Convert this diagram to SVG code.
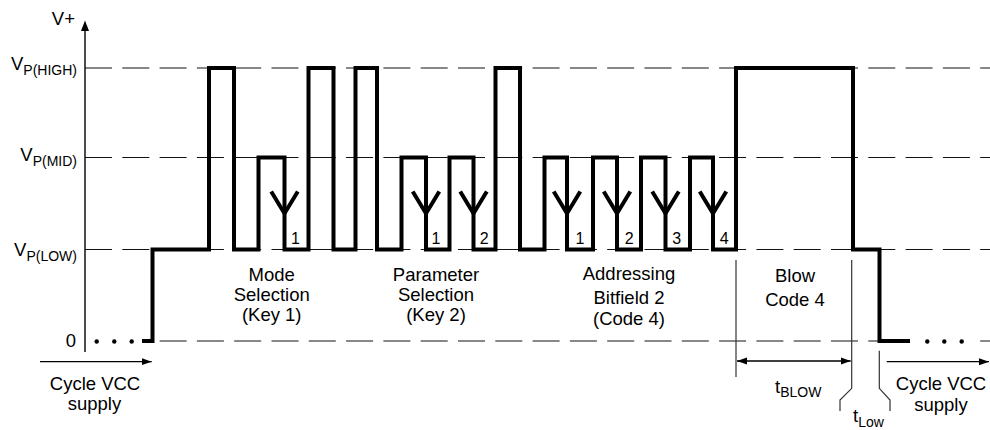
<svg xmlns="http://www.w3.org/2000/svg" width="990" height="430" viewBox="0 0 990 430">
  <style>
    text { font-family: "Liberation Sans", Arial, sans-serif; fill: #000; }
    .lbl { font-size: 18.5px; }
    .sub { font-size: 14px; }
    .dig { font-size: 16px; text-anchor: middle; }
    .mid { text-anchor: middle; }
    .end { text-anchor: end; }
    .grid { stroke: #111; stroke-width: 1; stroke-dasharray: 27 10.3; fill: none; }
    .wave { stroke: #000; stroke-width: 4; fill: none; stroke-linejoin: miter; }
    .key { stroke: #000; stroke-width: 4; fill: none; stroke-linejoin: miter; }
    .thin { stroke: #333; stroke-width: 1.2; fill: none; }
    .arr { stroke: #000; stroke-width: 1.3; fill: none; }
  </style>
  <defs>
    <marker id="ah" markerUnits="userSpaceOnUse" markerWidth="12" markerHeight="8" refX="10" refY="4" orient="auto-start-reverse" viewBox="0 0 12 8">
      <path d="M0,0.5 L10,4 L0,7.5 Z" fill="#000"/>
    </marker>
  </defs>

  <g id="grid">
    <line class="grid" x1="85" y1="68" x2="990" y2="68"/>
    <line class="grid" x1="85" y1="157.5" x2="990" y2="157.5"/>
    <line class="grid" x1="85" y1="249.5" x2="990" y2="249.5"/>
    <line class="grid" x1="152" y1="341" x2="910" y2="341" stroke-dashoffset="29.7"/>
    <line class="grid" x1="975" y1="341" x2="990" y2="341" stroke-dashoffset="32.1"/>
  </g>

  <g id="axis">
    <line x1="85" y1="30" x2="85" y2="352" stroke="#000" stroke-width="1.4"/>
    <path d="M85,20.5 L89,31 L81,31 Z" fill="#000"/>
    <text class="lbl end" x="75" y="25">V+</text>
    <text class="lbl end" x="77" y="70">V<tspan class="sub" dy="5">P(HIGH)</tspan></text>
    <text class="lbl end" x="77" y="161">V<tspan class="sub" dy="5">P(MID)</tspan></text>
    <text class="lbl end" x="77" y="256">V<tspan class="sub" dy="5">P(LOW)</tspan></text>
    <text class="lbl end" x="76" y="347">0</text>
  </g>

  <g id="dots" fill="#000">
    <circle cx="96.7" cy="341.5" r="2.2"/>
    <circle cx="114.3" cy="341.5" r="2.2"/>
    <circle cx="131.7" cy="341.5" r="2.2"/>
    <circle cx="927.3" cy="341.5" r="2.2"/>
    <circle cx="944.3" cy="341.5" r="2.2"/>
    <circle cx="961.7" cy="341.5" r="2.2"/>
  </g>

  <g id="waveform">
    <path class="wave" d="M142,341 H152.5 V249.5 H209 V68 H234 V249.5 H258.5 V157.5 H284.5 V249.5 H308.5 V68 H333.5 V249.5 H355.5 V68 H377 V249.5 H401.5 V157.5 H426 V249.5 H449.5 V157.5 H473.5 V249.5 H495.5 V68 H520 V249.5 H544.5 V157.5 H567 V249.5 H593 V157.5 H617 V249.5 H641 V157.5 H665.5 V249.5 H690 V157.5 H713 V249.5 H736 V68 H853 V249.5 H879.5 V341 H910"/>
  </g>

  <g id="key-arrows">
    <polyline class="key" points="271.2,191.5 284.5,213.5 297.8,191.5"/>
    <polyline class="key" points="412.7,191.5 426,213.5 439.3,191.5"/>
    <polyline class="key" points="460.2,191.5 473.5,213.5 486.8,191.5"/>
    <polyline class="key" points="553.7,191.5 567,213.5 580.3,191.5"/>
    <polyline class="key" points="603.7,191.5 617,213.5 630.3,191.5"/>
    <polyline class="key" points="652.2,191.5 665.5,213.5 678.8,191.5"/>
    <polyline class="key" points="699.7,191.5 713,213.5 726.3,191.5"/>
  </g>

  <g id="key-numbers">
    <text class="dig" x="295.5" y="243.5">1</text>
    <text class="dig" x="436" y="243.5">1</text>
    <text class="dig" x="484.3" y="243.5">2</text>
    <text class="dig" x="580" y="243.5">1</text>
    <text class="dig" x="629.3" y="243.5">2</text>
    <text class="dig" x="676.7" y="243.5">3</text>
    <text class="dig" x="724.3" y="243.5">4</text>
  </g>

  <g id="phase-labels">
    <text class="lbl mid" x="271.7" y="280.7">Mode</text>
    <text class="lbl mid" x="271.7" y="300.7">Selection</text>
    <text class="lbl mid" x="271.7" y="320.5">(Key 1)</text>
    <text class="lbl mid" x="436" y="280.7">Parameter</text>
    <text class="lbl mid" x="436" y="300.7">Selection</text>
    <text class="lbl mid" x="436" y="320.5">(Key 2)</text>
    <text class="lbl mid" x="629" y="280">Addressing</text>
    <text class="lbl mid" x="629" y="304">Bitfield 2</text>
    <text class="lbl mid" x="629" y="325">(Code 4)</text>
    <text class="lbl mid" x="795" y="282.3">Blow</text>
    <text class="lbl mid" x="795" y="306">Code 4</text>
  </g>

  <g id="connectors">
    <line class="arr" x1="40" y1="361.7" x2="151.7" y2="361.7" marker-end="url(#ah)"/>
    <line class="arr" x1="737" y1="361" x2="850.7" y2="361" marker-start="url(#ah)" marker-end="url(#ah)"/>
    <line class="arr" x1="886.7" y1="361.7" x2="989" y2="361.7" marker-end="url(#ah)"/>
    <line class="thin" x1="736" y1="260" x2="736" y2="377"/>
    <polyline class="thin" points="851.7,260 851.7,388.3 840,400 840,411"/>
    <polyline class="thin" points="879.3,350.7 879.3,388.3 890,400 890,411"/>
  </g>

  <g id="timing-labels">
    <text class="lbl mid" x="95" y="389.5">Cycle VCC</text>
    <text class="lbl mid" x="94.5" y="410">supply</text>
    <text class="lbl mid" x="941" y="390">Cycle VCC</text>
    <text class="lbl mid" x="941" y="410.5">supply</text>
    <text class="lbl" x="775" y="392.5">t<tspan class="sub" dy="4">BLOW</tspan></text>
    <text class="lbl" x="853" y="422">t<tspan class="sub" dy="5">Low</tspan></text>
  </g>
</svg>
